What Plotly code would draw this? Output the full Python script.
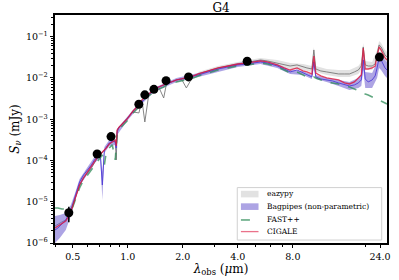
import plotly.graph_objects as go

# ---------------- data (observed wavelength in micron, flux in mJy) ----------------
wave_um = [0.400, 0.415, 0.436, 0.458, 0.476, 0.488, 0.500, 0.513, 0.526, 0.545,
           0.573, 0.603, 0.633, 0.657, 0.682, 0.708, 0.726, 0.745, 0.764, 0.792,
           0.823, 0.854, 0.865, 0.875, 0.898, 0.932, 0.991, 1.068, 1.151, 1.195,
           1.240, 1.304, 1.387, 1.477, 1.572, 1.632, 1.736, 1.847, 1.966, 2.092,
           2.283, 2.429, 2.751, 3.116, 3.529, 3.997, 4.526, 4.938, 5.32, 5.81,
           6.57, 7.17, 7.73, 8.43, 9.09, 9.55, 10.16, 10.42, 10.68, 11.37,
           12.25, 13.20, 14.23, 15.33, 16.32, 17.36, 18.25, 18.94, 19.41, 19.91,
           20.66, 21.71, 22.55, 23.11, 23.70, 24.30, 24.91, 25.54, 26.18]

cigale = [2.31e-6, 2.58e-6, 2.89e-6, 3.41e-6, 4.52e-6, 5.65e-6, 7.88e-6, 1.17e-5, 1.63e-5, 2.55e-5,
          3.77e-5, 5.26e-5, 6.95e-5, 9.20e-5, 1.22e-4, 1.44e-4, 1.61e-4, 1.80e-4, 2.01e-4, 2.51e-4,
          2.81e-4, 3.14e-4, 2.25e-4, 5.48e-4, 6.49e-4, 7.67e-4, 1.01e-3, 1.58e-3, 2.21e-3, 2.93e-3,
          3.46e-3, 4.09e-3, 5.12e-3, 6.05e-3, 6.77e-3, 7.57e-3, 8.00e-3, 8.95e-3, 9.46e-3, 1.00e-2,
          1.12e-2, 1.25e-2, 1.48e-2, 1.75e-2, 1.95e-2, 2.18e-2, 2.31e-2, 2.44e-2, 2.58e-2, 2.44e-2,
          2.07e-2, 1.75e-2, 1.56e-2, 1.75e-2, 1.48e-2, 1.40e-2, 1.25e-2, 3.41e-2, 1.32e-2, 1.12e-2,
          1.00e-2, 9.46e-3, 8.95e-3, 7.57e-3, 7.16e-3, 8.00e-3, 1.00e-2, 1.18e-2, 5.33e-2, 1.65e-2,
          1.65e-2, 1.75e-2, 1.95e-2, 3.41e-2, 5.65e-2, 4.78e-2, 3.61e-2, 3.05e-2, 2.73e-2]

eazypy = [2.58e-6, 2.89e-6, 3.23e-6, 3.61e-6, 4.52e-6, 5.65e-6, 7.88e-6, 1.10e-5, 1.63e-5, 2.55e-5,
          3.77e-5, 4.98e-5, 6.58e-5, 8.69e-5, 1.15e-4, 1.36e-4, 1.61e-4, 1.80e-4, 2.01e-4, 2.51e-4,
          2.81e-4, 2.97e-4, 1.03e-4, 5.48e-4, 6.49e-4, 7.67e-4, 1.01e-3, 1.50e-3, 1.42e-3, 2.93e-3,
          8.57e-4, 4.09e-3, 5.12e-3, 6.05e-3, 3.27e-3, 7.57e-3, 8.00e-3, 8.95e-3, 9.46e-3, 5.73e-3,
          1.12e-2, 1.25e-2, 1.48e-2, 1.75e-2, 1.95e-2, 2.18e-2, 2.44e-2, 2.58e-2, 2.73e-2, 2.58e-2,
          2.31e-2, 2.07e-2, 1.95e-2, 2.07e-2, 1.85e-2, 1.75e-2, 1.65e-2, 4.78e-2, 1.65e-2, 1.48e-2,
          1.40e-2, 1.32e-2, 1.25e-2, 1.25e-2, 1.25e-2, 1.40e-2, 1.56e-2, 1.95e-2, 5.65e-2, 2.07e-2,
          1.95e-2, 1.95e-2, 2.18e-2, 3.82e-2, 6.31e-2, 5.65e-2, 4.27e-2, 3.61e-2, 3.23e-2]

bagpipes = [2.07e-6, 2.31e-6, 2.89e-6, 3.61e-6, 5.05e-6, 6.31e-6, 8.81e-6, 1.30e-5, 1.93e-5, 3.01e-5,
            4.45e-5, 5.89e-5, 7.78e-5, 1.03e-4, 1.22e-4, 1.36e-4, 2.55e-5, 1.80e-4, 2.12e-4, 2.65e-4,
            2.97e-4, 2.81e-4, 2.01e-4, 4.91e-4, 6.49e-4, 7.67e-4, 1.01e-3, 1.58e-3, 2.21e-3, 2.77e-3,
            3.27e-3, 4.09e-3, 5.12e-3, 6.05e-3, 6.77e-3, 7.16e-3, 8.00e-3, 8.95e-3, 9.46e-3, 1.00e-2,
            1.12e-2, 1.18e-2, 1.40e-2, 1.65e-2, 1.85e-2, 2.07e-2, 2.18e-2, 2.31e-2, 2.44e-2, 2.31e-2,
            1.95e-2, 1.65e-2, 1.40e-2, 1.56e-2, 1.32e-2, 1.18e-2, 1.06e-2, 2.44e-2, 1.06e-2, 9.46e-3,
            8.95e-3, 8.46e-3, 7.57e-3, 6.77e-3, 6.40e-3, 6.77e-3, 7.57e-3, 8.95e-3, 2.73e-2, 9.46e-3,
            8.00e-3, 8.95e-3, 1.12e-2, 1.75e-2, 3.05e-2, 2.73e-2, 2.07e-2, 1.75e-2, 1.56e-2]

fastpp = [7.05e-6, 7.05e-6, 6.67e-6, 6.67e-6, 6.31e-6, 6.67e-6, 7.46e-6, 9.86e-6, 1.38e-5, 2.15e-5,
          3.37e-5, 4.45e-5, 5.89e-5, 7.78e-5, 9.20e-5, 1.15e-4, 1.36e-4, 7.78e-5, 1.70e-4, 2.01e-4,
          2.38e-4, 1.03e-4, 1.80e-4, 4.39e-4, 5.81e-4, 6.86e-4, 9.08e-4, 1.42e-3, 1.98e-3, 2.62e-3,
          3.10e-3, 3.66e-3, 4.58e-3, 5.41e-3, 6.05e-3, 6.77e-3, 7.16e-3, 8.00e-3, 8.46e-3, 8.95e-3,
          1.00e-2, 1.12e-2, 1.32e-2, 1.56e-2, 1.75e-2, 1.95e-2, 2.07e-2, 2.18e-2, 2.31e-2, 2.18e-2,
          1.85e-2, 1.56e-2, 1.32e-2, 1.40e-2, 1.18e-2, 1.06e-2, 1.00e-2, 1.06e-2, 1.00e-2, 8.95e-3,
          8.00e-3, 7.57e-3, 7.16e-3, 6.40e-3, 6.05e-3, 5.41e-3, 4.84e-3, 4.58e-3, 4.33e-3, 4.09e-3,
          3.87e-3, 3.46e-3, 3.27e-3, 3.10e-3, 2.93e-3, 2.77e-3, 2.62e-3, 2.48e-3, 2.34e-3]

# Bagpipes 16-84 percentile band
bag_band_wave = [0.400, 0.425, 0.458, 0.488, 0.513, 0.545, 0.603, 0.657, 0.708, 0.726,
                 0.745, 0.792, 0.854, 0.865, 0.875, 0.991, 1.151, 1.387, 1.847, 2.429,
                 3.997, 5.32, 6.57, 7.73, 9.09, 10.16, 10.42, 10.68, 12.25, 14.23,
                 16.32, 18.25, 18.94, 19.41, 19.91, 21.71, 23.11, 23.70, 24.30, 25.54, 26.18]
bag_band_hi = [4.52e-6, 4.77e-6, 5.34e-6, 8.34e-6, 1.54e-5, 3.56e-5, 6.95e-5, 1.22e-4, 1.61e-4, 5.26e-5,
               2.12e-4, 3.14e-4, 3.32e-4, 2.51e-4, 5.81e-4, 1.13e-3, 2.48e-3, 5.73e-3, 1.00e-2, 1.32e-2,
               2.31e-2, 2.73e-2, 2.18e-2, 1.56e-2, 1.48e-2, 1.18e-2, 3.05e-2, 1.18e-2, 1.00e-2, 8.95e-3,
               8.00e-3, 1.00e-2, 1.25e-2, 4.04e-2, 1.40e-2, 1.32e-2, 2.44e-2, 4.27e-2, 3.82e-2, 2.73e-2, 2.44e-2]
bag_band_lo = [1.00e-6, 1.32e-6, 2.07e-6, 4.52e-6, 1.04e-5, 2.41e-5, 4.71e-5, 8.69e-5, 1.15e-4, 1.10e-5,
               1.52e-4, 2.25e-4, 2.38e-4, 1.61e-4, 4.15e-4, 9.08e-4, 1.98e-3, 4.58e-3, 8.00e-3, 1.06e-2,
               1.85e-2, 2.18e-2, 1.75e-2, 1.25e-2, 1.18e-2, 9.46e-3, 1.95e-2, 9.46e-3, 8.00e-3, 6.40e-3,
               5.12e-3, 5.73e-3, 6.40e-3, 1.56e-2, 5.73e-3, 5.73e-3, 1.00e-2, 1.75e-2, 1.56e-2, 1.12e-2, 1.00e-2]

# eazypy uncertainty band
eazy_band_wave = [2.429, 3.116, 3.997, 5.32, 6.57, 7.73, 9.09, 10.16, 10.42, 10.68,
                  12.25, 14.23, 16.32, 18.25, 18.94, 19.41, 19.91, 21.71, 23.11, 23.70,
                  24.30, 25.54, 26.18]
eazy_band_hi = [1.40e-2, 1.95e-2, 2.44e-2, 3.05e-2, 2.73e-2, 2.31e-2, 2.18e-2, 1.95e-2, 5.65e-2, 1.95e-2,
                1.65e-2, 1.56e-2, 1.56e-2, 1.95e-2, 2.44e-2, 7.05e-2, 2.58e-2, 2.44e-2, 4.78e-2, 7.88e-2,
                7.05e-2, 4.78e-2, 4.27e-2]
eazy_band_lo = [1.12e-2, 1.56e-2, 1.95e-2, 2.44e-2, 1.95e-2, 1.65e-2, 1.56e-2, 1.40e-2, 3.41e-2, 1.40e-2,
                1.18e-2, 1.06e-2, 1.06e-2, 1.25e-2, 1.56e-2, 3.82e-2, 1.65e-2, 1.56e-2, 3.05e-2, 4.78e-2,
                4.27e-2, 2.73e-2, 2.44e-2]

# photometry
phot_wave = [0.476, 0.68, 0.81, 1.15, 1.24, 1.39, 1.62, 2.15, 4.5, 23.8]
phot_flux = [5.4e-6, 1.44e-4, 3.8e-4, 2.3e-3, 3.9e-3, 5.3e-3, 8.6e-3, 1.06e-2, 2.54e-2, 3.2e-2]
phot_err = [2.2e-6, 1.2e-5, 3.0e-5, 1.8e-4, 3.0e-4, 3.5e-4, 5.0e-4, 6.0e-4, 1.5e-3, 3.0e-3]

# legend labels
legend_labels = ["eazypy", "Bagpipes (non-parametric)", "FAST++", "CIGALE"]

# axes ticks
x_tickvals = [0.5, 1.0, 2.0, 4.0, 8.0, 24.0]
x_ticktext = ["0.5", "1.0", "2.0", "4.0", "8.0", "24.0"]
x_minor = [0.4, 0.6, 0.7, 0.8, 0.9, 3.0, 5.0, 6.0, 7.0, 20.0]
y_tickvals = [1e-6, 1e-5, 1e-4, 1e-3, 1e-2, 1e-1]
y_ticktext = ["10<sup>−6</sup>", "10<sup>−5</sup>", "10<sup>−4</sup>",
              "10<sup>−3</sup>", "10<sup>−2</sup>", "10<sup>−1</sup>"]
y_minor = [m * 10.0 ** e for e in range(-6, 0) for m in range(2, 10)]

# ---------------- styles ----------------
FONT = "DejaVu Serif"
C_EAZY_BAND = "rgba(190,190,190,0.45)"
C_EAZY_LINE = "rgba(120,120,120,0.9)"
C_BAG_BAND = "rgba(106,90,205,0.55)"
C_BAG_LINE = "rgba(80,60,215,0.9)"
C_FAST = "rgba(46,139,87,0.75)"
C_CIGALE = "rgba(220,20,60,0.8)"

fig = go.Figure()

fig.add_trace(go.Scatter(
    x=eazy_band_wave + eazy_band_wave[::-1], y=eazy_band_hi + eazy_band_lo[::-1],
    fill="toself", mode="none", fillcolor=C_EAZY_BAND,
    name=legend_labels[0], showlegend=False, hoverinfo="skip"))
fig.add_trace(go.Scatter(
    x=wave_um, y=eazypy, mode="lines", line=dict(color=C_EAZY_LINE, width=1),
    name=legend_labels[0], showlegend=False))

fig.add_trace(go.Scatter(
    x=bag_band_wave + bag_band_wave[::-1], y=bag_band_hi + bag_band_lo[::-1],
    fill="toself", mode="none", fillcolor=C_BAG_BAND,
    name=legend_labels[1], showlegend=False, hoverinfo="skip"))
fig.add_trace(go.Scatter(
    x=wave_um, y=bagpipes, mode="lines", line=dict(color=C_BAG_LINE, width=1),
    name=legend_labels[1], showlegend=False))

fig.add_trace(go.Scatter(
    x=wave_um, y=fastpp, mode="lines", name=legend_labels[2], showlegend=False,
    line=dict(color=C_FAST, width=1.6, dash="dash")))

fig.add_trace(go.Scatter(
    x=wave_um, y=cigale, mode="lines", name=legend_labels[3], showlegend=False,
    line=dict(color=C_CIGALE, width=1.3)))

fig.add_trace(go.Scatter(
    x=phot_wave, y=phot_flux, mode="markers", showlegend=False, name="photometry",
    marker=dict(color="black", size=9),
    error_y=dict(type="data", array=phot_err, color="black", thickness=1.5, width=0)))

axis_common = dict(
    type="log", showline=True, linecolor="black", linewidth=1.5, mirror=True,
    ticks="outside", ticklen=3.5, tickwidth=1, tickcolor="black",
    showgrid=False, zeroline=False,
    tickfont=dict(family=FONT, size=9.5, color="black"),
)

fig.update_xaxes(
    **axis_common,
    range=[-0.398, 1.418],
    tickmode="array", tickvals=x_tickvals, ticktext=x_ticktext,
    minor=dict(tickmode="array", tickvals=x_minor, ticks="outside", ticklen=2, tickcolor="black"),
    title=dict(text="<i>λ</i><sub>obs</sub> (<i>μ</i>m)", font=dict(family=FONT, size=12, color="black"),
               standoff=2),
)
fig.update_yaxes(
    **axis_common,
    range=[-6, -0.474],
    tickmode="array", tickvals=y_tickvals, ticktext=y_ticktext,
    minor=dict(tickmode="array", tickvals=y_minor, ticks="outside", ticklen=2, tickcolor="black"),
    title=dict(text="<i>S</i><sub><i>ν</i></sub> (mJy)", font=dict(family=FONT, size=12, color="black"),
               standoff=4),
)

# ---------- legend box (drawn in paper coordinates, lower right) ----------
shapes = [
    dict(type="rect", xref="paper", yref="paper", x0=0.549, x1=0.984, y0=0.013, y1=0.243,
         fillcolor="rgba(255,255,255,0.85)", line=dict(color="#d0d0d0", width=1), layer="above"),
    dict(type="rect", xref="paper", yref="paper", x0=0.560, x1=0.613, y0=0.200, y1=0.229,
         fillcolor=C_EAZY_BAND, line=dict(width=0), layer="above"),
    dict(type="rect", xref="paper", yref="paper", x0=0.560, x1=0.613, y0=0.145, y1=0.174,
         fillcolor=C_BAG_BAND, line=dict(width=0), layer="above"),
    dict(type="line", xref="paper", yref="paper", x0=0.560, x1=0.613, y0=0.101, y1=0.101,
         line=dict(color=C_FAST, width=1.6, dash="dash"), layer="above"),
    dict(type="line", xref="paper", yref="paper", x0=0.560, x1=0.613, y0=0.050, y1=0.050,
         line=dict(color="rgba(220,20,60,0.6)", width=1.3), layer="above"),
]
legend_y = [0.215, 0.159, 0.101, 0.050]
annotations = [
    dict(text=lab, xref="paper", yref="paper", x=0.634, y=yy, xanchor="left", yanchor="middle",
         showarrow=False, font=dict(family=FONT, size=7.5, color="black"))
    for lab, yy in zip(legend_labels, legend_y)
]

fig.update_layout(
    width=399, height=280,
    margin=dict(l=55, r=8, t=15, b=37),
    paper_bgcolor="white", plot_bgcolor="white",
    title=dict(text="G4", x=0.5, xref="paper", y=0.972, yref="container", yanchor="middle",
               font=dict(family=FONT, size=12, color="black")),
    showlegend=False,
    shapes=shapes,
    annotations=annotations,
)

fig.write_html("out.html", config={"displayModeBar": False},
               post_script="document.body.style.margin='0';")
